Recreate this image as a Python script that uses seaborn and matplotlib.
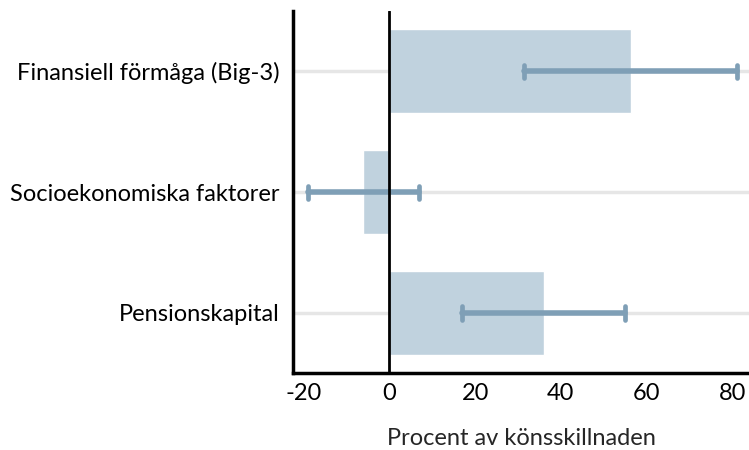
import matplotlib
matplotlib.use("Agg")
import matplotlib.pyplot as plt
import seaborn as sns
import pandas as pd
import numpy as np

# Decomposition of the gender gap (percent), with confidence intervals
categories = ["Finansiell förmåga (Big-3)", "Socioekonomiska faktorer", "Pensionskapital"]
shares = [56.3, -6.1, 36.1]
ci_low = [31.3, -19.0, 17.0]
ci_high = [81.1, 7.0, 54.9]
x_ticks = [-20, 0, 20, 40, 60, 80]

sns.set_theme(style="white")
plt.rcParams["font.family"] = ["Lato", "DejaVu Sans"]

df = pd.DataFrame({"kategori": categories, "andel": shares,
                   "lo": ci_low, "hi": ci_high})

fig = plt.figure(figsize=(7.49, 4.5), dpi=100)
ax = fig.add_axes([0.3916, 0.1704, 0.6084, 0.8052])

bar_color = "#c0d2de"
err_color = "#7f9fb6"
fs = 17

sns.barplot(data=df, x="andel", y="kategori", orient="h", color=bar_color,
            saturation=1, width=0.695, ax=ax, zorder=2)

ypos = np.arange(len(categories))
for y in ypos:
    ax.axhline(y, color="#e6e6e6", lw=2.5, zorder=1)

# confidence intervals: horizontal whiskers with rounded end caps
ax.hlines(ypos, df["lo"], df["hi"], color=err_color, lw=4.0,
          capstyle="round", zorder=3)
cap_half = 0.055
ax.vlines(df["lo"], ypos - cap_half, ypos + cap_half, color=err_color,
          lw=3.4, capstyle="round", zorder=3)
ax.vlines(df["hi"], ypos - cap_half, ypos + cap_half, color=err_color,
          lw=3.4, capstyle="round", zorder=3)

ax.axvline(0, color="black", lw=2, zorder=4)

ax.set_xlim(-22.4, 83.9)
ax.set_ylim(2.5, -0.5)
ax.set_xticks(x_ticks)
ax.set_xticklabels([str(t) for t in x_ticks])
ax.set_xlabel("Procent av könsskillnaden", fontsize=fs, labelpad=17)
ax.set_ylabel("")

for side in ["top", "right"]:
    ax.spines[side].set_visible(False)
for side in ["left", "bottom"]:
    ax.spines[side].set_color("black")
    ax.spines[side].set_linewidth(2.5)

ax.tick_params(axis="both", labelsize=fs, colors="black", length=5, width=1.5,
               direction="out")
ax.tick_params(axis="y", pad=5)
ax.tick_params(axis="x", pad=2, width=2.5)
ax.grid(False)

fig.savefig("out.png", dpi=100)
